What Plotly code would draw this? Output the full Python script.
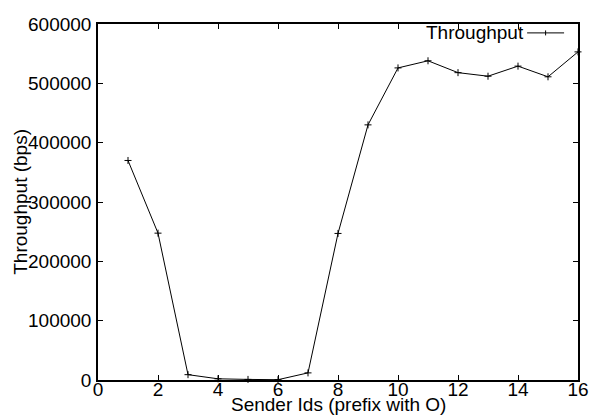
import plotly.graph_objects as go

# Throughput measured per sender
sender_ids = [1, 2, 3, 4, 5, 6, 7, 8, 9, 10, 11, 12, 13, 14, 15, 16]
throughput = [370000, 247500, 9000, 2000, 1000, 500, 12000, 247000,
              430000, 526000, 538000, 518000, 512000, 529000, 511000, 553000]

x_ticks = [0, 2, 4, 6, 8, 10, 12, 14, 16]
y_ticks = [0, 100000, 200000, 300000, 400000, 500000, 600000]

FONT = "Liberation Sans, Arial, Helvetica, sans-serif"
FS = 19

fig = go.Figure()
fig.add_trace(go.Scatter(
    x=sender_ids, y=throughput, mode="lines+markers", name="Throughput",
    line=dict(color="black", width=1),
    marker=dict(symbol="cross-thin", size=5, line=dict(color="black", width=1)),
    showlegend=False, cliponaxis=False,
))

axis_common = dict(
    showline=True, linecolor="black", linewidth=1.5, mirror="allticks",
    ticks="inside", ticklen=5, tickwidth=1, tickcolor="black",
    showgrid=False, zeroline=False, automargin=False,
    tickfont=dict(family=FONT, size=FS, color="black"),
)
fig.update_xaxes(range=[0, 16], tickvals=x_ticks, ticktext=[str(v) for v in x_ticks],
                 ticklabelstandoff=-9, **axis_common)
fig.update_yaxes(range=[0, 600000], tickvals=y_ticks, ticktext=[str(v) for v in y_ticks],
                 ticklabelstandoff=1, **axis_common)

# Axis titles
fig.add_annotation(text="Sender Ids (prefix with O)", xref="paper", yref="paper",
                   x=0.5, y=-0.035, xanchor="center", yanchor="top", showarrow=False,
                   font=dict(family=FONT, size=FS, color="black"))
fig.add_annotation(text="Throughput (bps)", xref="paper", yref="paper",
                   x=-0.163, y=0.5, xanchor="center", yanchor="middle", textangle=-90,
                   showarrow=False, font=dict(family=FONT, size=FS, color="black"))

# Key: label followed by a line sample with a "+" marker
fig.add_annotation(text="Throughput", xref="paper", yref="paper",
                   x=0.892, y=0.975, xanchor="right", yanchor="middle", showarrow=False,
                   font=dict(family=FONT, size=FS, color="black"))
fig.add_shape(type="line", xref="paper", yref="paper", x0=0.894, x1=0.971,
              y0=0.975, y1=0.975, line=dict(color="black", width=1))
fig.add_shape(type="line", xref="paper", yref="paper", x0=0.9325, x1=0.9325,
              y0=0.968, y1=0.982, line=dict(color="black", width=1))

fig.update_layout(
    template="none",
    width=592, height=416,
    margin=dict(l=98, r=14, t=24, b=36),
    paper_bgcolor="white", plot_bgcolor="white",
    font=dict(family=FONT, size=FS, color="black"),
)

fig.write_html("out.html")
